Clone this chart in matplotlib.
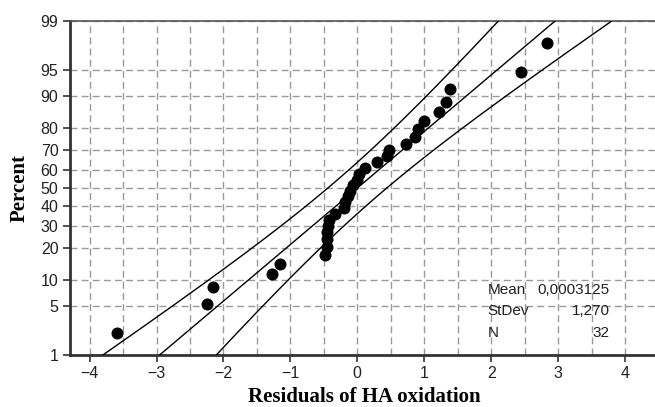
import numpy as np
import matplotlib
matplotlib.use("Agg")
import matplotlib.pyplot as plt
from statistics import NormalDist

# Data
residuals = [-3.59, -2.24, -2.16, -1.27, -1.16,
             -0.49, -0.46, -0.45, -0.45, -0.44, -0.43,
             -0.33, -0.20, -0.18, -0.14, -0.11, -0.07, -0.01, 0.03,
             0.12, 0.29, 0.44, 0.48, 0.73, 0.86, 0.90, 0.99, 1.22,
             1.32, 1.39, 2.45, 2.83]
percents = [2.16, 5.25, 8.33, 11.42, 14.51, 17.59, 20.68, 23.77, 26.85,
            29.94, 33.02, 36.11, 39.20, 42.28, 45.37, 48.46, 51.54, 54.63,
            57.72, 60.80, 63.89, 66.98, 70.06, 73.15, 76.23, 79.32, 82.41,
            85.49, 88.58, 91.67, 94.75, 97.84]
mean_val = 0.0003125
stdev_val = 1.270
n_val = 32
y_ticks = [1, 5, 10, 20, 30, 40, 50, 60, 70, 80, 90, 95, 99]
x_ticks = [-4, -3, -2, -1, 0, 1, 2, 3, 4]

nd = NormalDist()
def z(p):
    return nd.inv_cdf(p / 100.0)

fig = plt.figure(figsize=(6.55, 4.07), dpi=100)
ax = fig.add_axes([69.5/655, 52/407, 589/655, 334/407])

zlo, zhi = z(1), z(99)
zz = np.linspace(zlo - 0.05, zhi + 0.05, 200)
center = mean_val + stdev_val * zz
half = 1.96 * stdev_val * np.sqrt((1 + zz**2 / 2) / n_val)
for xs in (center, center - half, center + half):
    ax.plot(xs, zz, color='black', lw=1.0, zorder=3)

ax.scatter(residuals, [z(p) for p in percents], s=75, color='black', zorder=4, linewidths=0)

ax.set_xlim(-4.3, 4.3)
ax.set_ylim(zlo, zhi)
ax.set_yticks([z(p) for p in y_ticks])
ax.set_yticklabels([str(p) for p in y_ticks])
ax.set_xticks(x_ticks)
ax.set_xticks(np.arange(-4.0, 4.51, 0.5), minor=True)
ax.tick_params(axis='x', which='minor', length=0)
ax.grid(True, which='both', axis='x', color='#999999', ls=(0, (5, 3)), lw=1.0)
ax.grid(True, which='major', axis='y', color='#999999', ls=(0, (5, 3)), lw=1.0)
ax.set_axisbelow(True)

tickfont = 'Liberation Sans'
for lab in ax.get_xticklabels() + ax.get_yticklabels():
    lab.set_fontfamily(tickfont)
    lab.set_fontsize(11.5)
    lab.set_color('#222222')
ax.tick_params(axis='both', which='major', length=5, width=1.2, color='#333333', pad=3)

for s in ('left', 'bottom'):
    ax.spines[s].set_linewidth(2.0)
    ax.spines[s].set_color('#333333')
ax.spines['top'].set_linewidth(1.2)
ax.spines['top'].set_color('#555555')
ax.spines['right'].set_visible(False)

ax.set_xlabel('Residuals of HA oxidation', fontfamily='Liberation Serif',
              fontweight='bold', fontsize=15, labelpad=4)
ax.set_ylabel('Percent', fontfamily='Liberation Serif', fontweight='bold',
              fontsize=15, labelpad=8)

# stats box text
rows = [('Mean', '0,0003125'), ('StDev', '1,270'), ('N', str(n_val))]
for i, (k, v) in enumerate(rows):
    yy = -1.418 - i * 0.30
    ax.text(1.95, yy, k, fontfamily=tickfont, fontsize=11, color='#222222', va='center', ha='left')
    ax.text(3.77, yy, v, fontfamily=tickfont, fontsize=11, color='#222222', va='center', ha='right')

fig.savefig('out.png', dpi=100)
